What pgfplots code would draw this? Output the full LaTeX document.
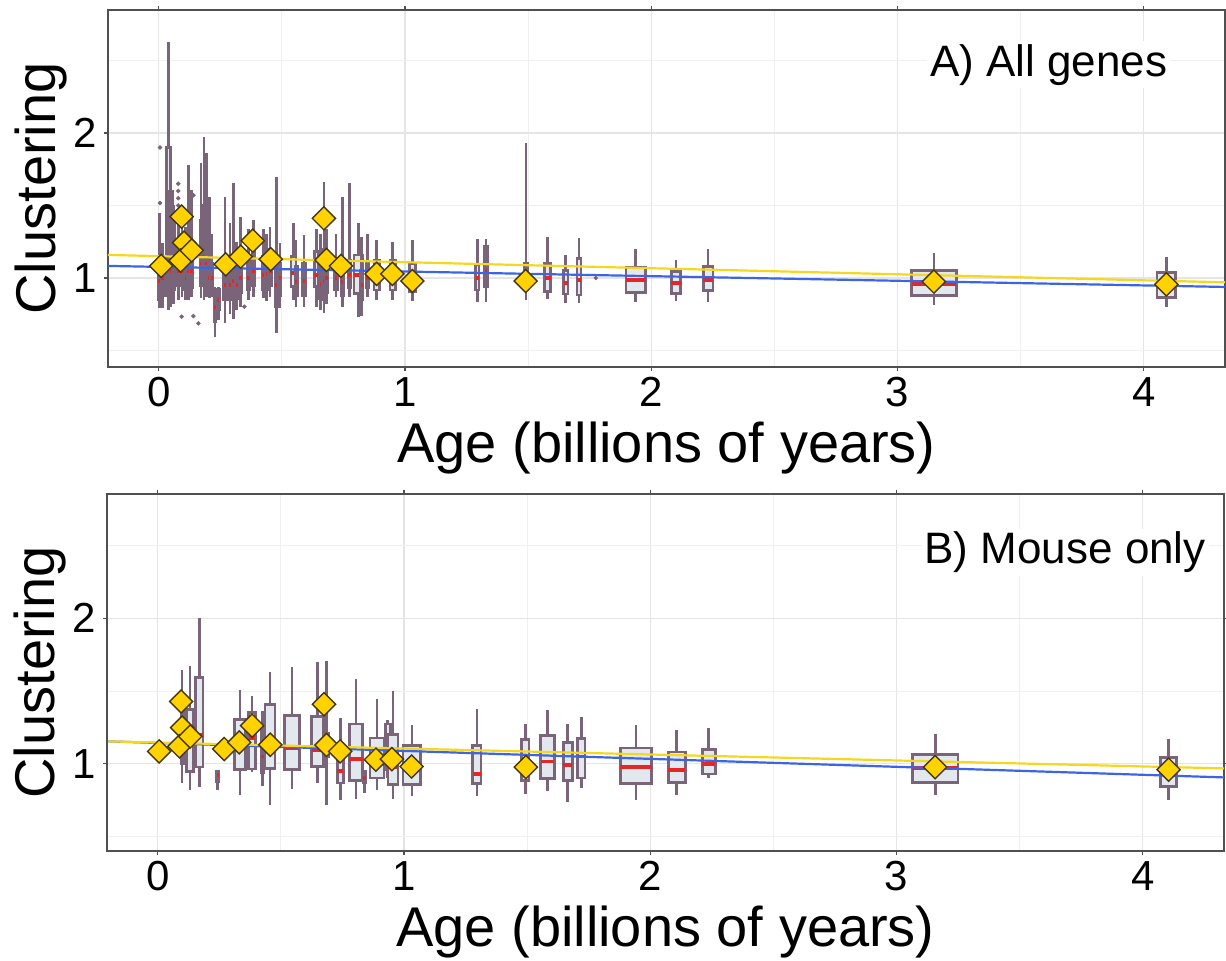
\documentclass[border=0pt]{standalone}
\usepackage{fontspec}
\setmainfont{Liberation Sans}
\usepackage{pgfplots}
\pgfplotsset{compat=1.18}
\usepgfplotslibrary{statistics}

\definecolor{boxc}{RGB}{122,100,122}
\definecolor{boxfill}{RGB}{226,232,238}
\definecolor{medc}{RGB}{228,38,38}
\definecolor{gold}{RGB}{255,210,0}
\definecolor{goldline}{RGB}{245,215,30}
\definecolor{blueline}{RGB}{60,100,230}
\definecolor{diaedge}{RGB}{70,55,10}
\definecolor{frame}{RGB}{80,80,80}

\pgfplotsset{
  panel/.style={
    scale only axis, width=558.5pt, height=178.5pt,
    xmin=-0.206, xmax=4.33, ymin=0.386, ymax=2.848,
    xtick={0,1,2,3,4}, ytick={1,2},
    minor xtick={0.5,1.5,2.5,3.5}, minor ytick={0.5,1.5,2.5},
    grid=both,
    major grid style={gray!20, line width=0.6pt},
    minor grid style={gray!12, line width=0.5pt},
    axis line style={draw=frame, line width=0.8pt},
    tick align=outside, major tick length=2pt, minor tick length=0pt,
    tick style={frame, line width=0.6pt},
    /pgf/number format/assume math mode=true,
    ticklabel style={font=\fontsize{21}{21}\selectfont, inner sep=0pt},
    xticklabel style={yshift=-3pt},
    yticklabel style={xshift=-3.5pt},
    xlabel={Age (billions of years)}, ylabel={Clustering},
    label style={font=\fontsize{28}{30}\selectfont, inner sep=0pt},
    xlabel style={at={(axis description cs:0.5,0)}, anchor=north, yshift=-27.5pt},
    ylabel style={at={(axis description cs:-0.0358,0.5)}, anchor=south},
  },
  bxs/.style={draw=boxc, fill=boxfill, line width=1.35pt, solid, mark=none,
    boxplot/draw direction=y,
    boxplot/whisker extend=0,
    boxplot/every median/.style={draw=medc, line width=1.9pt}},
  dia/.style={only marks, mark=square*, mark size=4.1pt,
    mark options={rotate=45, fill=gold, draw=diaedge, line width=0.7pt}},
  outl/.style={only marks, mark=*, mark size=0.9pt, boxc},
}
% draw position, box width, lower whisker, lower quartile, median, upper quartile, upper whisker
\newcommand{\bx}[7]{\addplot[bxs, boxplot prepared={draw position=#1, box extend=#2,
  lower whisker=#3, lower quartile=#4, median=#5, upper quartile=#6, upper whisker=#7}] coordinates {};}

\begin{document}
\begin{tikzpicture}
\useasboundingbox (0,0) rectangle (613pt,-480.5pt);

% ---------- A) all genes ----------
\begin{axis}[panel, at={(54pt,-183.5pt)}, anchor=south west]
\bx{0.004}{0.012}{0.79}{0.85}{0.98}{1.10}{1.45}
\bx{0.016}{0.010}{0.79}{0.88}{1.00}{1.15}{1.24}
\bx{0.040}{0.016}{0.78}{0.88}{1.10}{1.90}{2.63}
\bx{0.050}{0.012}{0.80}{0.90}{1.05}{1.60}{1.91}
\bx{0.060}{0.010}{0.82}{0.92}{1.08}{1.45}{1.50}
\bx{0.079}{0.008}{0.85}{0.95}{1.05}{1.25}{1.40}
\bx{0.094}{0.014}{0.87}{0.95}{1.05}{1.30}{1.40}
\bx{0.110}{0.010}{0.85}{0.92}{1.00}{1.20}{1.35}
\bx{0.120}{0.010}{0.85}{0.92}{1.05}{1.30}{1.78}
\bx{0.134}{0.010}{0.87}{0.93}{1.05}{1.20}{1.61}
\bx{0.172}{0.010}{0.86}{0.95}{1.10}{1.40}{1.79}
\bx{0.184}{0.012}{0.85}{0.95}{1.15}{1.50}{1.97}
\bx{0.195}{0.012}{0.87}{0.95}{1.10}{1.40}{1.86}
\bx{0.206}{0.010}{0.86}{0.93}{1.00}{1.20}{1.56}
\bx{0.215}{0.008}{0.87}{0.92}{1.00}{1.10}{1.30}
\bx{0.229}{0.008}{0.595}{0.70}{0.80}{0.90}{0.94}
\bx{0.242}{0.008}{0.71}{0.78}{0.85}{0.92}{0.94}
\bx{0.269}{0.010}{0.687}{0.85}{0.95}{1.05}{1.561}
\bx{0.290}{0.010}{0.75}{0.85}{0.95}{1.08}{1.38}
\bx{0.303}{0.010}{0.72}{0.85}{0.98}{1.15}{1.657}
\bx{0.317}{0.008}{0.78}{0.86}{0.95}{1.05}{1.25}
\bx{0.333}{0.010}{0.80}{0.90}{1.00}{1.15}{1.42}
\bx{0.364}{0.010}{0.85}{0.92}{1.00}{1.12}{1.34}
\bx{0.384}{0.010}{0.87}{0.95}{1.05}{1.20}{1.40}
\bx{0.425}{0.010}{0.86}{0.92}{1.02}{1.15}{1.34}
\bx{0.439}{0.010}{0.84}{0.92}{1.03}{1.20}{1.30}
\bx{0.452}{0.012}{0.87}{0.95}{1.05}{1.18}{1.35}
\bx{0.479}{0.010}{0.619}{0.80}{0.95}{1.10}{1.699}
\bx{0.492}{0.010}{0.79}{0.88}{1.00}{1.10}{1.24}
\bx{0.547}{0.020}{0.848}{0.94}{1.032}{1.147}{1.377}
\bx{0.558}{0.010}{0.80}{0.88}{0.97}{1.08}{1.26}
\bx{0.590}{0.010}{0.80}{0.88}{0.98}{1.10}{1.297}
\bx{0.641}{0.018}{0.80}{0.94}{1.02}{1.182}{1.34}
\bx{0.658}{0.010}{0.78}{0.86}{0.96}{1.08}{1.30}
\bx{0.671}{0.010}{0.757}{0.85}{0.98}{1.20}{1.664}
\bx{0.682}{0.010}{0.82}{0.90}{1.00}{1.15}{1.34}
\bx{0.720}{0.010}{0.87}{0.92}{1.00}{1.10}{1.30}
\bx{0.745}{0.010}{0.802}{0.88}{0.97}{1.10}{1.561}
\bx{0.774}{0.010}{0.871}{0.93}{1.02}{1.12}{1.653}
\bx{0.810}{0.035}{0.733}{0.894}{1.021}{1.159}{1.377}
\bx{0.824}{0.008}{0.74}{0.85}{0.95}{1.05}{1.28}
\bx{0.847}{0.010}{0.87}{0.93}{1.00}{1.10}{1.30}
\bx{0.885}{0.022}{0.848}{0.917}{0.99}{1.124}{1.262}
\bx{0.950}{0.022}{0.848}{0.917}{0.99}{1.124}{1.25}
\bx{1.030}{0.024}{0.84}{0.906}{0.98}{1.10}{1.262}
\bx{1.294}{0.014}{0.835}{0.917}{0.999}{1.089}{1.267}
\bx{1.329}{0.010}{0.835}{0.94}{1.05}{1.216}{1.267}
\bx{1.491}{0.014}{0.85}{0.92}{1.00}{1.10}{1.93}
\bx{1.579}{0.024}{0.857}{0.905}{0.998}{1.101}{1.285}
\bx{1.653}{0.018}{0.826}{0.89}{0.963}{1.05}{1.159}
\bx{1.707}{0.016}{0.826}{0.883}{0.986}{1.135}{1.274}
\bx{1.937}{0.080}{0.834}{0.90}{0.986}{1.073}{1.20}
\bx{2.101}{0.038}{0.843}{0.894}{0.963}{1.044}{1.124}
\bx{2.231}{0.040}{0.834}{0.913}{0.986}{1.078}{1.20}
\bx{3.148}{0.182}{0.814}{0.878}{0.959}{1.05}{1.174}
\bx{4.092}{0.076}{0.802}{0.867}{0.96}{1.039}{1.147}
\addplot[outl] coordinates {
  (0.005,1.90) (0.005,1.517) (0.079,1.50) (0.079,1.55) (0.079,1.60) (0.079,1.65)
  (0.141,1.57) (0.093,0.733) (0.141,0.737) (0.161,0.687) (0.348,0.802) (1.775,1.00)};
\addplot[blueline, line width=1.1pt] coordinates {(-0.206,1.083) (4.33,0.938)};
\addplot[goldline, line width=1.1pt] coordinates {(-0.206,1.159) (4.33,0.970)};
\addplot[dia] coordinates {
  (0.010,1.083) (0.093,1.423) (0.103,1.243) (0.089,1.120) (0.134,1.190)
  (0.272,1.094) (0.333,1.147) (0.382,1.257) (0.455,1.129) (0.671,1.411)
  (0.681,1.124) (0.740,1.083) (0.885,1.028) (0.949,1.028) (1.030,0.979)
  (1.490,0.979) (3.148,0.975) (4.092,0.956)};
\node[anchor=east, fill=white, inner sep=1.5pt, font=\fontsize{22}{26}\selectfont]
  at (axis cs:4.11,2.469) {A) All genes};
\end{axis}

% ---------- B) mouse only ----------
\begin{axis}[panel, at={(53.5pt,-425.5pt)}, anchor=south west, ymin=0.4, ymax=2.855]
\bx{0.099}{0.010}{0.87}{1.00}{1.20}{1.45}{1.648}
\bx{0.131}{0.028}{0.821}{0.947}{1.15}{1.372}{1.671}
\bx{0.169}{0.030}{0.837}{0.977}{1.20}{1.591}{2.005}
\bx{0.244}{0.008}{0.82}{0.88}{0.92}{0.95}{0.95}
\bx{0.334}{0.043}{0.786}{0.959}{1.15}{1.303}{1.51}
\bx{0.383}{0.027}{0.943}{0.963}{1.175}{1.354}{1.469}
\bx{0.426}{0.012}{0.85}{0.94}{1.05}{1.26}{1.36}
\bx{0.456}{0.040}{0.717}{0.967}{1.10}{1.407}{1.63}
\bx{0.545}{0.061}{0.825}{0.959}{1.108}{1.331}{1.667}
\bx{0.650}{0.049}{0.867}{0.981}{1.097}{1.326}{1.699}
\bx{0.686}{0.014}{0.717}{1.05}{1.15}{1.212}{1.71}
\bx{0.741}{0.024}{0.752}{0.867}{0.95}{1.097}{1.315}
\bx{0.805}{0.054}{0.757}{0.885}{1.032}{1.274}{1.584}
\bx{0.839}{0.010}{0.80}{0.87}{0.90}{0.95}{0.96}
\bx{0.890}{0.057}{0.821}{0.901}{1.00}{1.177}{1.448}
\bx{0.934}{0.020}{0.90}{0.96}{1.05}{1.274}{1.30}
\bx{0.955}{0.041}{0.757}{0.855}{0.98}{1.20}{1.499}
\bx{1.032}{0.072}{0.775}{0.855}{0.97}{1.124}{1.269}
\bx{1.296}{0.034}{0.775}{0.862}{0.931}{1.124}{1.377}
\bx{1.493}{0.030}{0.791}{0.885}{0.97}{1.166}{1.276}
\bx{1.583}{0.056}{0.816}{0.897}{1.016}{1.195}{1.372}
\bx{1.665}{0.036}{0.736}{0.885}{0.993}{1.147}{1.276}
\bx{1.720}{0.030}{0.83}{0.901}{1.05}{1.172}{1.321}
\bx{1.942}{0.128}{0.752}{0.862}{0.975}{1.108}{1.269}
\bx{2.108}{0.068}{0.786}{0.871}{0.959}{1.081}{1.23}
\bx{2.238}{0.054}{0.901}{0.929}{0.998}{1.097}{1.246}
\bx{3.157}{0.186}{0.786}{0.871}{0.97}{1.062}{1.205}
\bx{4.105}{0.064}{0.752}{0.843}{0.96}{1.043}{1.17}
\addplot[outl] coordinates {(0.085,1.43)};
\addplot[blueline, line width=1.1pt] coordinates {(-0.2,1.154) (4.33,0.906)};
\addplot[goldline, line width=1.1pt] coordinates {(-0.2,1.154) (4.33,0.968)};
\addplot[dia] coordinates {
  (0.006,1.085) (0.095,1.428) (0.099,1.248) (0.088,1.120) (0.132,1.188)
  (0.270,1.101) (0.331,1.147) (0.383,1.262) (0.457,1.131) (0.675,1.409)
  (0.685,1.129) (0.741,1.085) (0.886,1.028) (0.951,1.032) (1.031,0.981)
  (1.495,0.977) (3.157,0.977) (4.105,0.959)};
\node[anchor=east, fill=white, inner sep=1.5pt, font=\fontsize{22}{26}\selectfont]
  at (axis cs:4.27,2.455) {B) Mouse only};
\end{axis}
\end{tikzpicture}
\end{document}
